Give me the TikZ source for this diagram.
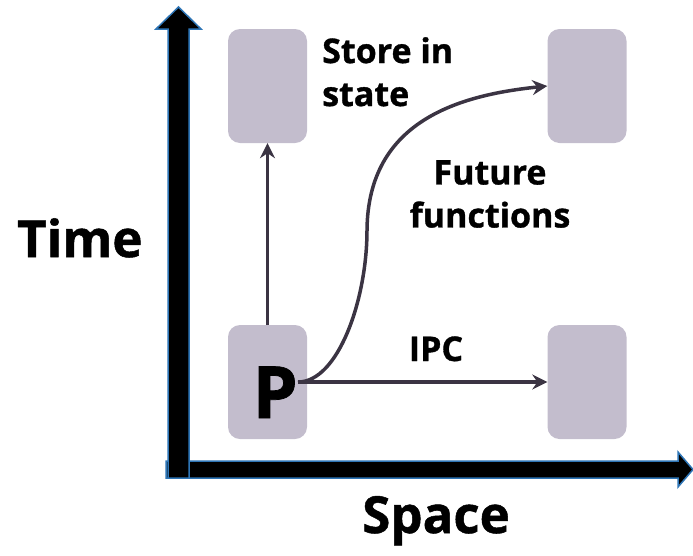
\documentclass[tikz,border=0pt]{standalone}
\usepackage{fontspec}
\setmainfont{Open Sans}[BoldFeatures={FakeBold=1}]
\usetikzlibrary{arrows.meta,positioning}
\definecolor{boxgray}{HTML}{C3BDCD}
\definecolor{flowcol}{HTML}{3B3443}
\definecolor{axisblue}{HTML}{2E75B6}

\begin{document}
\begin{tikzpicture}[x=1pt,y=-1pt,>=Stealth,
  cell/.style={fill=boxgray,rounded corners=12pt,minimum width=79pt,minimum height=114pt,inner sep=0pt},
  flow/.style={draw=flowcol,line width=3.5pt,-{Stealth[length=15pt,width=15pt,inset=5pt]}},
  lbl/.style={font=\fontsize{34}{43}\selectfont\bfseries,inner sep=0pt},
  big/.style={font=\fontsize{51}{51}\selectfont\bfseries,inner sep=0pt},
  axis/.style={fill=black,draw=axisblue,line width=1.5pt,line join=miter}]
\useasboundingbox (0,0) rectangle (693,555);
% axes
\draw[axis] (166,461) -- (678,461) -- (678,452) -- (693,469.5) -- (678,487) -- (678,478) -- (166,478) -- cycle;
\draw[axis] (168,478) -- (168,29) -- (156,29) -- (178.5,7) -- (201,29) -- (189,29) -- (189,478) -- cycle;
\node[big,anchor=base west] (time) at (17,257) {Time};
\node[big,anchor=base] (space) at (436,533) {Space};
% boxes
\node[cell] (store) at (267.5,86) {};
\node[cell] (later) at (587,86) {};
\node[cell] (proc) at (267.5,382) {};
\node[cell] (remote) at (587,382) {};
\node[font=\fontsize{72}{72}\selectfont\bfseries,inner sep=0pt,anchor=base east] (pname) at (298,418) {P};
% labels
\node[lbl,align=left,anchor=north west] (storetxt) at (322,37) {Store in\\state};
\node[lbl,align=center,anchor=north] (futtxt) at (490,160) {Future\\functions};
\node[lbl,anchor=base] (ipctxt) at (436,361) {IPC};
% flows
\coordinate (start) at (pname.east |- remote.west);
\coordinate (bend) at (367,230);
\draw[flow] (proc.north) -- (store.south);
\draw[flow] (start) -- (remote.west);
\draw[flow] (start) .. controls +(40,0) and +(0,70) .. (bend)
  .. controls +(1,-110) and +(-87,9) .. (later.west);
\end{tikzpicture}
\end{document}
